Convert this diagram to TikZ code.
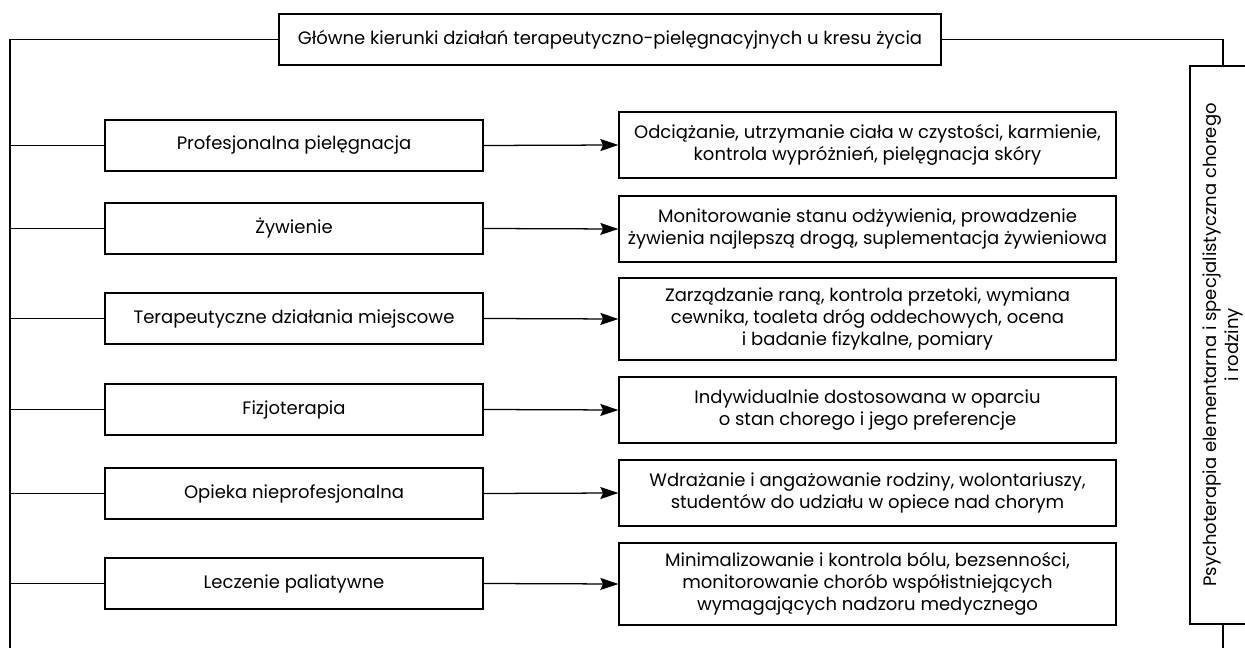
\documentclass[tikz,border=0pt]{standalone}
\usepackage{fontspec}
\setmainfont{Poppins}
\usepackage{tikz}
\usetikzlibrary{positioning, arrows.meta}

\begin{document}
\begin{tikzpicture}[x=0.025cm, y=-0.025cm]
\tikzstyle{head}=[draw, rectangle, line width=0.9pt, text centered, minimum height = 1.275cm, minimum width = 16.55cm, inner sep=0pt]
\tikzstyle{area}=[draw, rectangle, line width=0.9pt, text centered, minimum height = 1.275cm, minimum width = 9.45cm, inner sep=0pt]
\tikzstyle{task}=[draw, rectangle, line width=0.9pt, align=center, minimum height = 1.65cm, minimum width = 12.425cm, inner sep=0pt]
\tikzstyle{line}=[draw, line width=0.9pt]
\tikzstyle{link}=[draw, line width=0.9pt, -{Stealth[length=0.45cm, width=0.3cm, inset=0.07cm]}]
\fontsize{12.8pt}{15.6pt}\selectfont
\useasboundingbox (0, 0) rectangle (1245, 648);

\node[head](title) at (610, 39.5) {Główne kierunki działań terapeutyczno-pielęgnacyjnych u kresu życia};
\node[draw, line width=0.9pt, rotate=90, align=center, minimum height = 1.65cm, minimum width = 13.95cm, inner sep=0pt](psycho) at (1223, 345) {Psychoterapia elementarna i specjalistyczna chorego\\ i rodziny};
\coordinate (trunk) at (10, 648);
\coordinate (tail) at (1223, 648);

\node[area](pielegnacja) at (294, 145.5) {Profesjonalna pielęgnacja};
\node[area](zywienie) at (294, 228.5) {Żywienie};
\node[area](miejscowe) at (294, 318.5) {Terapeutyczne działania miejscowe};
\node[area](fizjo) at (294, 409.5) {Fizjoterapia};
\node[area](opieka) at (294, 493.5) {Opieka nieprofesjonalna};
\node[area](leczenie) at (294, 583.5) {Leczenie paliatywne};

\node[task](t-pielegnacja) at (867.5, 145) {Odciążanie, utrzymanie ciała w czystości, karmienie,\\ kontrola wypróżnień, pielęgnacja skóry};
\node[task](t-zywienie) at (867.5, 229) {Monitorowanie stanu odżywienia, prowadzenie\\ żywienia najlepszą drogą, suplementacja żywieniowa};
\node[task, minimum height = 2.05cm](t-miejscowe) at (867.5, 319) {Zarządzanie raną, kontrola przetoki, wymiana\\ cewnika, toaleta dróg oddechowych, ocena\\ i badanie fizykalne, pomiary};
\node[task](t-fizjo) at (867.5, 410) {Indywidualnie dostosowana w oparciu\\ o stan chorego i jego preferencje};
\node[task](t-opieka) at (867.5, 493) {Wdrażanie i angażowanie rodziny, wolontariuszy,\\ studentów do udziału w opiece nad chorym};
\node[task, minimum height = 2.05cm](t-leczenie) at (867.5, 584) {Minimalizowanie i kontrola bólu, bezsenności,\\ monitorowanie chorób współistniejących\\ wymagających nadzoru medycznego};

\path[line] (title.west) -| (trunk);
\path[line] (title.east) -| (psycho.east);
\path[line] (psycho.west) -- (tail);

\foreach \n in {pielegnacja, zywienie, miejscowe, fizjo, opieka, leczenie}{
  \path[line] (trunk |- \n.west) -- (\n.west);
  \path[link] (\n.east) -- (t-\n.west);
}

\end{tikzpicture}
\end{document}
